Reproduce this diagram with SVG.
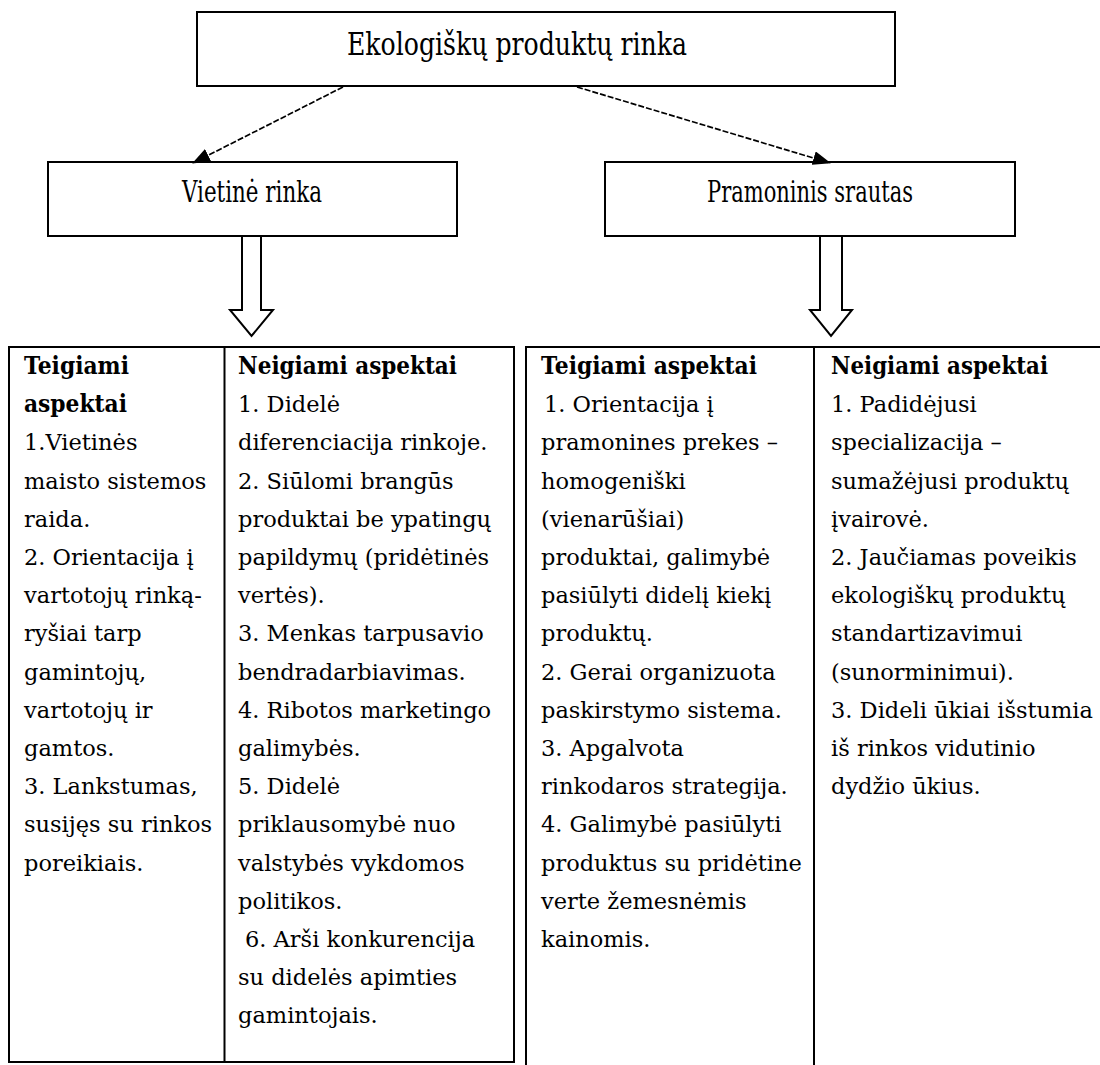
<svg xmlns="http://www.w3.org/2000/svg" width="1100" height="1065" viewBox="0 0 1100 1065">
<style>
.box{fill:#fff;stroke:#000;stroke-width:2}
.line{fill:none;stroke:#000;stroke-width:2}
.ttl{font-family:"DejaVu Serif","Liberation Serif",serif;fill:#000}
.t{font-family:"DejaVu Serif","Liberation Serif",serif;font-size:22.5px;fill:#000}
.b{font-family:"DejaVu Serif","Liberation Serif",serif;font-size:24px;font-weight:bold;fill:#000}
.dash{fill:none;stroke:#000;stroke-width:1.7;stroke-dasharray:6 2}
.blk{fill:#fff;stroke:#000;stroke-width:2;stroke-linejoin:miter}
</style>
<defs>
<marker id="ah" viewBox="0 0 18 14" refX="17" refY="7" markerWidth="18" markerHeight="14" markerUnits="userSpaceOnUse" orient="auto">
<path d="M0,0 L18,7 L0,14 z" fill="#000"/>
</marker>
</defs>
<rect width="1100" height="1065" fill="#fff"/>

<g id="title">
<rect class="box" x="197" y="12" width="698" height="74"/>
<text class="ttl" x="347" y="55" font-size="31" textLength="340" lengthAdjust="spacingAndGlyphs">Ekologiškų produktų rinka</text>
</g>

<g id="vietine-rinka">
<rect class="box" x="48" y="162" width="409" height="74"/>
<text class="ttl" x="182" y="202" font-size="29" textLength="140" lengthAdjust="spacingAndGlyphs">Vietinė rinka</text>
</g>

<g id="pramoninis-srautas">
<rect class="box" x="605" y="162" width="410" height="74"/>
<text class="ttl" x="707" y="202" font-size="29" textLength="206" lengthAdjust="spacingAndGlyphs">Pramoninis srautas</text>
</g>

<g id="connectors">
<path class="dash" d="M343,87 L193,163" marker-end="url(#ah)"/>
<path class="dash" d="M577,87 L830,163" marker-end="url(#ah)"/>
<path class="blk" d="M242,236 L261,236 L261,310 L273,310 L251.5,336 L230,310 L242,310 Z"/>
<path class="blk" d="M820,236 L842,236 L842,310 L852,310 L831,336 L810,310 L820,310 Z"/>
</g>

<g id="table-vietine">
<path class="line" d="M9,347 L514,347 L514,1062 L9,1062 Z"/>
<path class="line" d="M224.5,347 L224.5,1062"/>
</g>

<g id="table-pramoninis">
<path class="line" d="M526,1066 L526,347 L1102,347"/>
<path class="line" d="M814,347 L814,1066"/>
</g>

<g id="vietine-teigiami">
<text class="b" x="24" y="374" textLength="105" lengthAdjust="spacingAndGlyphs">Teigiami</text>
<text class="b" x="24" y="412.2" textLength="103" lengthAdjust="spacingAndGlyphs">aspektai</text>
<text class="t">
<tspan x="24" y="450.4">1.Vietinės</tspan>
<tspan x="24" y="488.6">maisto sistemos</tspan>
<tspan x="24" y="526.8">raida.</tspan>
<tspan x="24" y="565">2. Orientacija į</tspan>
<tspan x="24" y="603.2">vartotojų rinką-</tspan>
<tspan x="24" y="641.4">ryšiai tarp</tspan>
<tspan x="24" y="679.6">gamintojų,</tspan>
<tspan x="24" y="717.8">vartotojų ir</tspan>
<tspan x="24" y="756">gamtos.</tspan>
<tspan x="24" y="794.2">3. Lankstumas,</tspan>
<tspan x="24" y="832.4">susijęs su rinkos</tspan>
<tspan x="24" y="870.6">poreikiais.</tspan>
</text>
</g>

<g id="vietine-neigiami">
<text class="b" x="238" y="374" textLength="219" lengthAdjust="spacingAndGlyphs">Neigiami aspektai</text>
<text class="t">
<tspan x="238" y="412.2">1. Didelė</tspan>
<tspan x="238" y="450.4">diferenciacija rinkoje.</tspan>
<tspan x="238" y="488.6">2. Siūlomi brangūs</tspan>
<tspan x="238" y="526.8">produktai be ypatingų</tspan>
<tspan x="238" y="565">papildymų (pridėtinės</tspan>
<tspan x="238" y="603.2">vertės).</tspan>
<tspan x="238" y="641.4">3. Menkas tarpusavio</tspan>
<tspan x="238" y="679.6">bendradarbiavimas.</tspan>
<tspan x="238" y="717.8">4. Ribotos marketingo</tspan>
<tspan x="238" y="756">galimybės.</tspan>
<tspan x="238" y="794.2">5. Didelė</tspan>
<tspan x="238" y="832.4">priklausomybė nuo</tspan>
<tspan x="238" y="870.6">valstybės vykdomos</tspan>
<tspan x="238" y="908.8">politikos.</tspan>
<tspan x="245" y="947">6. Arši konkurencija</tspan>
<tspan x="238" y="985.2">su didelės apimties</tspan>
<tspan x="238" y="1023.4">gamintojais.</tspan>
</text>
</g>

<g id="pramoninis-teigiami">
<text class="b" x="541" y="374" textLength="216" lengthAdjust="spacingAndGlyphs">Teigiami aspektai</text>
<text class="t">
<tspan x="544" y="412.2">1. Orientacija į</tspan>
<tspan x="541" y="450.4">pramonines prekes –</tspan>
<tspan x="541" y="488.6">homogeniški</tspan>
<tspan x="541" y="526.8">(vienarūšiai)</tspan>
<tspan x="541" y="565">produktai, galimybė</tspan>
<tspan x="541" y="603.2">pasiūlyti didelį kiekį</tspan>
<tspan x="541" y="641.4">produktų.</tspan>
<tspan x="541" y="679.6">2. Gerai organizuota</tspan>
<tspan x="541" y="717.8">paskirstymo sistema.</tspan>
<tspan x="541" y="756">3. Apgalvota</tspan>
<tspan x="541" y="794.2">rinkodaros strategija.</tspan>
<tspan x="541" y="832.4">4. Galimybė pasiūlyti</tspan>
<tspan x="541" y="870.6">produktus su pridėtine</tspan>
<tspan x="541" y="908.8">verte žemesnėmis</tspan>
<tspan x="541" y="947">kainomis.</tspan>
</text>
</g>

<g id="pramoninis-neigiami">
<text class="b" x="831" y="374" textLength="217" lengthAdjust="spacingAndGlyphs">Neigiami aspektai</text>
<text class="t">
<tspan x="831" y="412.2">1. Padidėjusi</tspan>
<tspan x="831" y="450.4">specializacija –</tspan>
<tspan x="831" y="488.6">sumažėjusi produktų</tspan>
<tspan x="831" y="526.8">įvairovė.</tspan>
<tspan x="831" y="565">2. Jaučiamas poveikis</tspan>
<tspan x="831" y="603.2">ekologiškų produktų</tspan>
<tspan x="831" y="641.4">standartizavimui</tspan>
<tspan x="831" y="679.6">(sunorminimui).</tspan>
<tspan x="831" y="717.8">3. Dideli ūkiai išstumia</tspan>
<tspan x="831" y="756">iš rinkos vidutinio</tspan>
<tspan x="831" y="794.2">dydžio ūkius.</tspan>
</text>
</g>
</svg>
